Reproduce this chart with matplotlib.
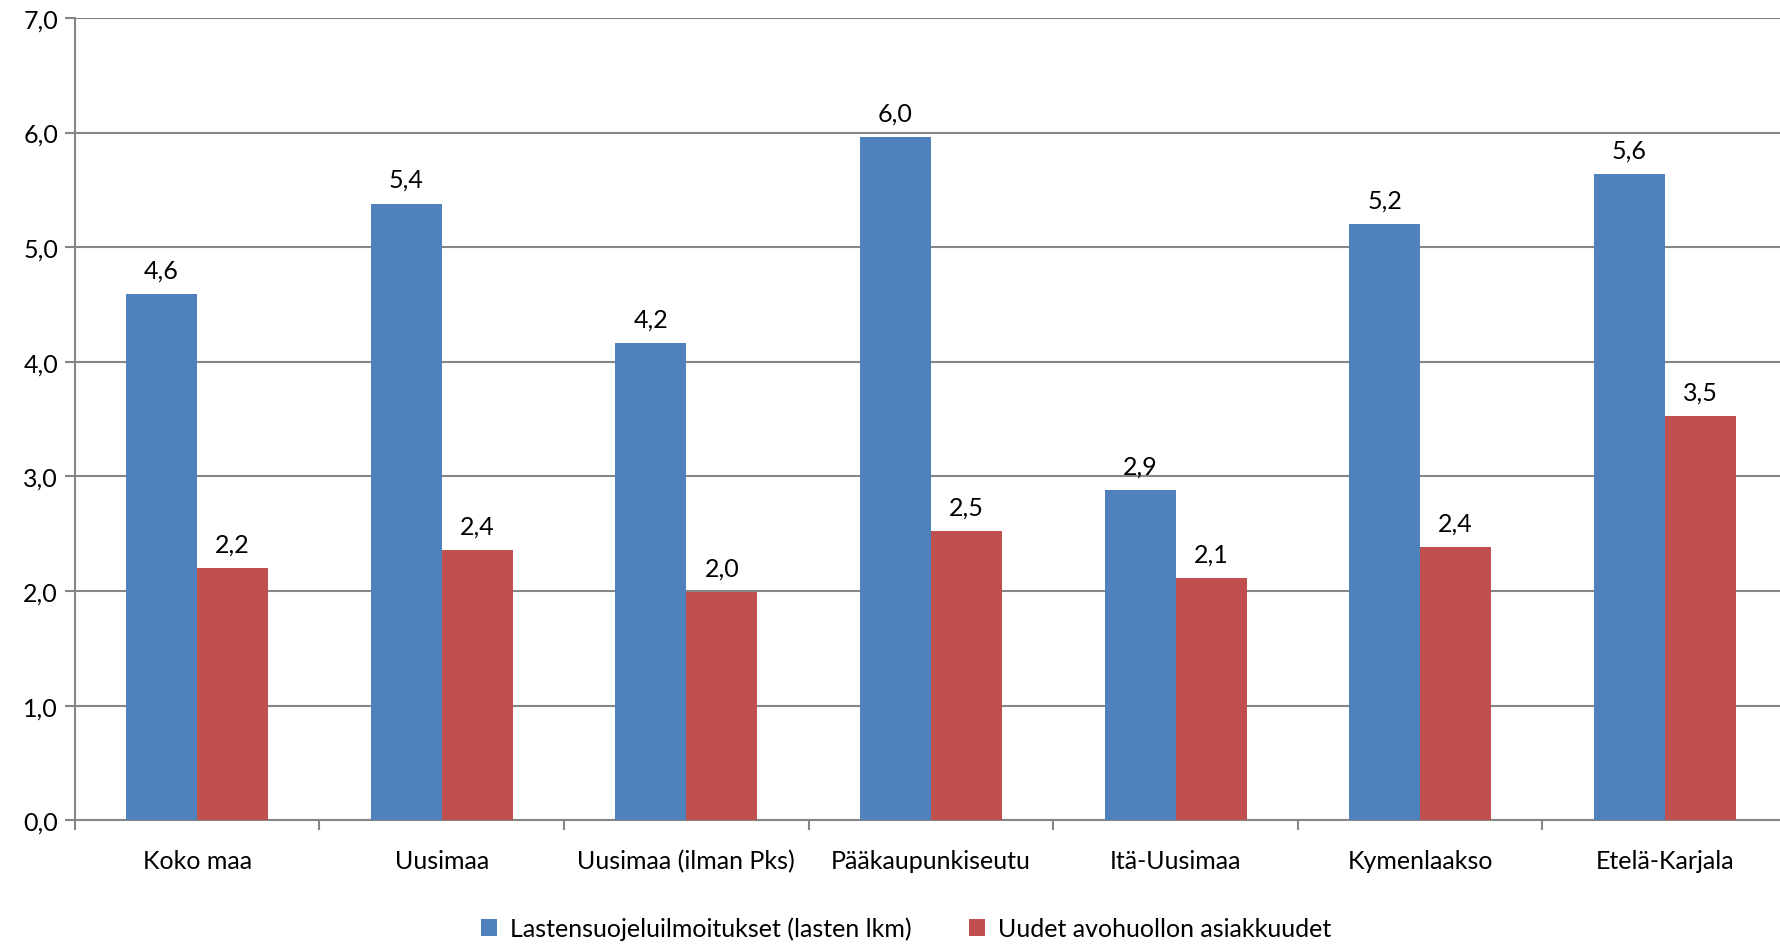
import numpy as np
import matplotlib.pyplot as plt

plt.rcParams['font.family'] = ['Lato', 'DejaVu Sans']

regions = ["Koko maa", "Uusimaa", "Uusimaa (ilman Pks)", "Pääkaupunkiseutu",
           "Itä-Uusimaa", "Kymenlaakso", "Etelä-Karjala"]
ilmoitukset = [4.59, 5.38, 4.16, 5.96, 2.88, 5.20, 5.64]
asiakkuudet = [2.20, 2.36, 1.99, 2.52, 2.11, 2.38, 3.53]
series_names = ["Lastensuojeluilmoitukset (lasten lkm)", "Uudet avohuollon asiakkuudet"]

blue = "#4F81BD"
red = "#C0504D"
grid = "#868686"

fig = plt.figure(figsize=(17.8, 9.45), dpi=100)
ax = fig.add_axes([0.042, 0.131, 0.962, 0.849])

x = np.arange(len(regions))
w = 0.29
b1 = ax.bar(x - w / 2, ilmoitukset, w, color=blue, label=series_names[0], zorder=3)
b2 = ax.bar(x + w / 2, asiakkuudet, w, color=red, label=series_names[1], zorder=3)

for bars, vals in [(b1, ilmoitukset), (b2, asiakkuudet)]:
    for bar, v in zip(bars, vals):
        ax.annotate(f"{v:.1f}".replace(".", ","),
                    (bar.get_x() + bar.get_width() / 2, v),
                    xytext=(0, 9), textcoords="offset points",
                    ha="center", va="bottom", fontsize=18)

ax.set_xlim(-0.5, len(regions) - 0.5)
ax.set_ylim(0, 7)
ax.set_yticks(np.arange(0, 7.01, 1))
ax.set_yticklabels([f"{t:.1f}".replace(".", ",") for t in np.arange(0, 7.01, 1)])
ax.yaxis.grid(True, color=grid, linewidth=1.5, zorder=0)

ax.set_xticks(x)
ax.set_xticklabels(regions)
ax.set_xticks(np.arange(-0.5, len(regions), 1), minor=True)
ax.tick_params(axis="x", which="major", length=0, pad=21, labelsize=18)
ax.tick_params(axis="x", which="minor", length=7, width=1.5, color=grid)
ax.tick_params(axis="y", length=7, width=1.5, color=grid, labelsize=18, pad=5)

for s in ["top", "right"]:
    ax.spines[s].set_visible(False)
for s in ["left", "bottom"]:
    ax.spines[s].set_color(grid)
    ax.spines[s].set_linewidth(1.5)

fig.legend(handles=[b1, b2], loc="lower center", bbox_to_anchor=(0.509, -0.02),
           ncol=2, frameon=False, fontsize=18, handlelength=0.65, handleheight=0.65,
           columnspacing=2.3, handletextpad=0.5)

plt.savefig("out.png")
